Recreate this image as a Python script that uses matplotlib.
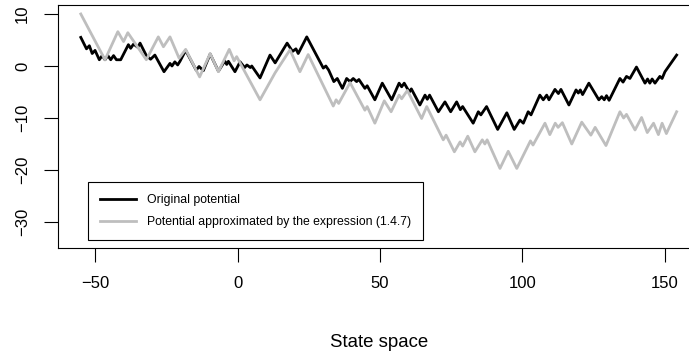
import matplotlib.pyplot as plt

plt.rcParams['font.family'] = ['Liberation Sans', 'DejaVu Sans']

# vertices of the original potential (state, value)
orig_x = [-55, -53, -52, -51, -50, -48.5, -47.5, -46.5, -45.5, -44.5, -43.5, -42.5, -41,
          -38.3, -37.5, -36.5, -35, -34.2, -32, -30.5, -29, -25.8, -23.7, -23, -22, -21, -20.2,
          -18.2, -14.5, -13.5, -12, -9.6, -6.7, -5, -4.4, -3.8, -3.2, -0.9, 0.9, 2.5, 3.3, 4.5,
          5, 7.9, 11.4, 13.2, 17.4, 19.3, 20.5, 21.3, 24.3, 30.1, 31, 32, 33.8, 35, 36.8,
          38.3, 39.5, 40.6, 41.8, 42.6, 44.7, 45.5, 48.2, 50.8, 54.1, 56.7, 57.6, 58.5, 60.3,
          61, 64, 65.8, 66.6, 67.4, 70.5, 72.8, 74.8, 76.9, 78.2, 79, 82.7, 84.5, 85.4, 87.4,
          91.3, 94.5, 97.1, 99.1, 100.3, 102, 103, 106.1, 107.3, 108.5, 109.3, 111.4, 112.6,
          113.5, 116.3, 118.8, 119.6, 120.3, 121.1, 123.3, 126.8, 127.8, 128.7, 129.5, 130.4,
          134.2, 135.3, 136.5, 137.7, 140, 143, 143.9, 144.7, 145.5, 146.5, 148.2, 149, 150,
          154.1]
orig_y = [5.5, 3.3, 3.9, 2.4, 3.0, 1.2, 2.0, 1.2, 2.0, 1.2, 2.0, 1.2, 1.2,
          4.1, 3.4, 4.2, 3.6, 4.4, 2.0, 1.3, 2.1, -1.1, 0.5, 0, 0.8, 0.2, 0.9,
          3.0, -0.8, -0.1, -0.9, 2.3, -1.0, 0.5, 0.9, 0.3, 0.9, -1.1, 0.8, -0.3, 0.2, -0.3,
          0, -2.3, 2.1, 0.6, 4.4, 2.8, 3.3, 2.4, 5.6, -0.4, 0, -0.8, -3.0, -2.4, -4.3,
          -2.4, -3.0, -2.4, -3.0, -2.6, -4.3, -3.8, -6.5, -3.3, -6.5, -3.3, -4.0, -3.3, -5.0,
          -4.4, -7.5, -5.6, -6.4, -5.6, -8.8, -6.9, -8.8, -6.9, -8.4, -7.8, -11.0, -8.8, -9.4, -7.8,
          -12.2, -9.0, -12.2, -10.4, -11.0, -8.8, -9.4, -5.6, -6.5, -5.6, -6.5, -4.5, -5.3,
          -4.5, -7.5, -4.6, -5.2, -4.6, -5.5, -3.3, -6.5, -5.9, -6.5, -5.7, -6.6,
          -2.4, -3.1, -2.0, -2.4, -0.2, -3.3, -2.5, -3.3, -2.5, -3.3, -2.0, -2.4, -1.1,
          2.1]

# vertices of the approximation (1.4.7)
approx_x = [-55, -46.5, -42, -40, -38.5, -32, -27.8, -26, -23.7, -20.5, -18.2, -13.3, -9.6,
            -6.7, -2.9, -1.2, -0.3, 7.9, 13.2, 18.4, 21.9, 24.8, 33.6, 34.6, 35.5, 39.5, 44.7,
            45.5, 48.2, 51.5, 53.9, 56.7, 57.6, 59.6, 64.6, 66.4, 72.2, 73.2, 76.1, 78.1, 79,
            80.8, 83.3, 85.9, 86.8, 87.6, 92.1, 95, 98, 102.8, 103.7, 107.9, 109.6, 111.5,
            112.5, 114, 117.3, 120.8, 124, 125.5, 129.3, 134.2, 135.5, 136.5, 139.5, 141.8,
            143.8, 146, 147.7, 149, 150.5, 151.5, 154.1]
approx_y = [10, 1.2, 6.6, 4.7, 6.4, 1.2, 5.6, 3.7, 5.6, 1.5, 3.2, -2.1, 2.4,
            -1.1, 3.2, 1.0, 1.8, -6.5, -1.3, 3.1, -1.1, 2.2, -7.7, -6.5, -7.2, -3.2, -8.5,
            -7.8, -11.0, -6.7, -8.8, -5.6, -6.3, -4.7, -10.1, -7.8, -14.2, -13.3, -16.5, -14.6, -15.4,
            -13.5, -16.5, -14.2, -15.0, -14.2, -19.7, -16.4, -19.7, -14.4, -15.2, -11.0, -13.2, -11.0,
            -11.8, -10.9, -15.0, -10.8, -13.3, -11.8, -15.3, -8.8, -10.0, -9.3, -12.3, -9.9,
            -12.8, -11.0, -13.2, -11.0, -13.0, -11.8, -8.8]

fig = plt.figure(figsize=(6.89, 3.51), dpi=100)
# the frame runs past the right edge of the image
ax = fig.add_axes([58 / 689, 103 / 351, 642 / 689, 243 / 351])

ax.plot(orig_x, orig_y, color='black', lw=2, label='Original potential')
ax.plot(approx_x, approx_y, color='#BEBEBE', lw=2,
        label='Potential approximated by the expression (1.4.7)')

ax.set_xlim(-63, 162.3)
ax.set_ylim(-35, 11.73)
ax.set_xticks([-50, 0, 50, 100, 150])
ax.set_yticks([-30, -20, -10, 0, 10])
ax.tick_params(labelsize=12, length=10, width=0.8, pad=10)
for lab in ax.get_yticklabels():
    lab.set_rotation(90)
    lab.set_va('center')
for s in ax.spines.values():
    s.set_linewidth(0.8)

ax.set_xlabel('State space', fontsize=13.4, labelpad=31)

leg = ax.legend(loc='lower left', bbox_to_anchor=(30 / 642, 8 / 243), borderaxespad=0,
                fontsize=8.8, handlelength=2.95, handletextpad=0.94, borderpad=0.95,
                labelspacing=0.85, fancybox=False, framealpha=1)
leg.get_frame().set_edgecolor('black')
leg.get_frame().set_linewidth(0.8)

fig.savefig('out.png', dpi=100)
